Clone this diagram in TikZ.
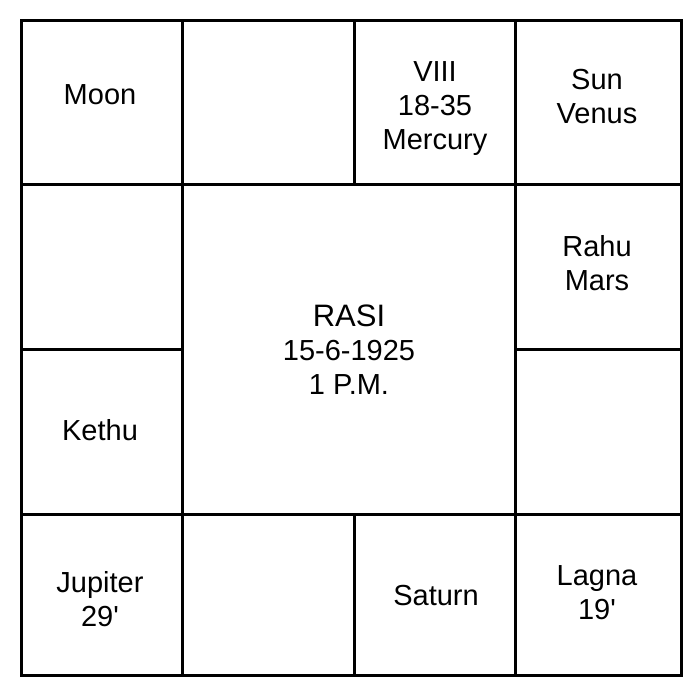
\documentclass[tikz,border=0pt]{standalone}
\usepackage{fontspec}
\setmainfont{Liberation Sans}
\begin{document}
\begin{tikzpicture}[x=1pt, y=-1pt, line width=3pt,
    every node/.style={align=center, font=\fontsize{29}{34}\selectfont},
    title/.style={font=\fontsize{31}{34}\selectfont}]
  \useasboundingbox (0,0) rectangle (692,691);

  % Grid: outer frame and house lines
  \draw (21,20) rectangle (681,675);
  \foreach \x in {182, 515}
    \draw (\x,20) -- (\x,675);
  \foreach \y in {184, 514}
    \draw (21,\y) -- (681,\y);
  \draw (354,20) -- (354,184);
  \draw (354,514) -- (354,675);
  \draw (21,349) -- (182,349);
  \draw (515,349) -- (681,349);

  % Houses
  \node (moon) at (100,95) {Moon};
  \node (mercury) at (435,109) {VIII\\18-35\\Mercury};
  \node (sunvenus) at (597,97) {Sun\\Venus};
  \node (rahumars) at (597,263) {Rahu\\Mars};
  \node (kethu) at (100,430) {Kethu};
  \node (jupiter) at (100,599) {Jupiter\\29\textquotesingle};
  \node (saturn) at (436,596) {Saturn};
  \node (lagna) at (597,593) {Lagna\\19\textquotesingle};

  % Centre
  \node[title] (rasi) at (349,316) {RASI};
  \node (date) at (349,367) {15-6-1925\\1 P.M.};
\end{tikzpicture}
\end{document}
